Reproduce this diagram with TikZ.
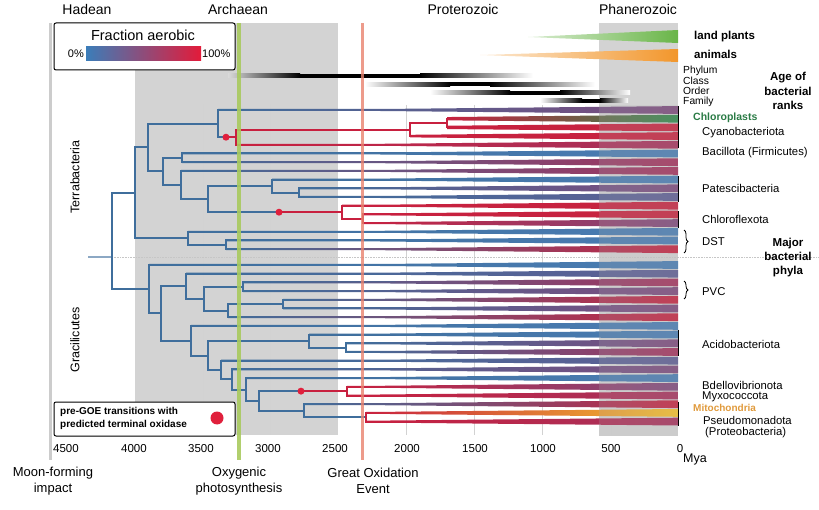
\documentclass[tikz,border=0pt]{standalone}
\usepackage{fontspec}
\setmainfont{Liberation Sans}
\usetikzlibrary{decorations.pathreplacing}

\definecolor{treeblue}{HTML}{3F6E9C}
\definecolor{treered}{HTML}{C8203F}
\definecolor{dotred}{HTML}{E0203C}
\definecolor{phblue}{HTML}{4A7DB3}
\definecolor{phbluepurple}{HTML}{5F5E93}
\definecolor{phpurple}{HTML}{7E4A7C}
\definecolor{phredpurple}{HTML}{A5325C}
\definecolor{phred}{HTML}{C62440}
\definecolor{chlgreen}{HTML}{2F8A4C}
\definecolor{mitoyellow}{HTML}{F4C22C}
\definecolor{eragray}{HTML}{D3D3D3}
\definecolor{oxygreen}{HTML}{A8CA5E}
\definecolor{goered}{HTML}{E8826E}
\definecolor{plantgreen}{HTML}{69B548}
\definecolor{animalorange}{HTML}{F2962B}
\definecolor{barblue}{HTML}{3B7DB9}
\definecolor{barpurple}{HTML}{8A4B80}
\definecolor{barred}{HTML}{E31B3A}
\definecolor{chltext}{HTML}{2A7B45}
\definecolor{mitotext}{HTML}{E09A3C}

\begin{document}
\begin{tikzpicture}[x=1pt, y=-1pt,
    bluebranch/.style={draw=treeblue, line width=2pt},
    redbranch/.style={draw=treered, line width=2pt},
    gridline/.style={draw=gray!35, line width=0.5pt},
    era/.style={font=\fontsize{14}{16}\selectfont},
    tick/.style={font=\fontsize{11.5}{13}\selectfont},
    event/.style={font=\fontsize{13}{15.5}\selectfont, align=center},
    phylum/.style={anchor=west, inner sep=0pt, font=\fontsize{11.3}{12}\selectfont},
    rank/.style={anchor=west, inner sep=0pt, font=\fontsize{10.3}{11}\selectfont},
    heading/.style={font=\bfseries\fontsize{11.5}{14.3}\selectfont, align=center},
    clade/.style={rotate=90, font=\fontsize{12.5}{14}\selectfont},
    boxline/.style={draw=black, line width=1pt, fill=white, rounded corners=2pt},
    phylumbar/.style={draw=black, line width=1.5pt},
  ]
    \useasboundingbox (0,0) rectangle (819,510);

    % 時代の背景
    \fill[eragray] (135,23) rectangle (338,435);
    \fill[eragray] (599,23) rectangle (678,436);

    % 目盛りの線
    \draw[gridline] (203,105) -- (203,435);
    \draw[gridline] (270,105) -- (270,435);
    \draw[gridline] (406,105) -- (406,435);
    \draw[gridline] (474,105) -- (474,435);
    \draw[gridline] (542,105) -- (542,435);
    \draw[gridline] (611,105) -- (611,435);

    % 月の形成
    \draw[line width=3pt, gray!40] (50,23) -- (50,460);

    % 陸上植物と動物
    \shade[left color=plantgreen!25, right color=plantgreen] (528,37) -- (678,30) -- (678,43) -- cycle;
    \shade[left color=animalorange!20, right color=animalorange] (480,55) -- (678,49) -- (678,62) -- cycle;

    % 分類階級の年代
    \shade[left color=gray!30, right color=black] (228,74) rectangle (300,78);
    \fill[black] (300,74) rectangle (420,78);
    \shade[left color=black, right color=white] (420,74) rectangle (533,78);
    \shade[left color=white, right color=black] (365,82.5) rectangle (450,86.5);
    \fill[black] (450,82.5) rectangle (490,86.5);
    \shade[left color=black, right color=white] (490,82.5) rectangle (595,86.5);
    \shade[left color=white, right color=black] (430,91) rectangle (510,95);
    \fill[black] (510,91) rectangle (560,95);
    \shade[left color=black, right color=white] (560,91) rectangle (630,95);
    \shade[left color=white, right color=black] (540,99) rectangle (582,103);
    \fill[black] (582,99) rectangle (600,103);
    \shade[left color=black, right color=white] (600,99) rectangle (628,103);

    % 葉
    \foreach \i in {1,...,17} \coordinate (l\i) at (678,{110+8.7*(\i-1)});
    \foreach \i in {18,...,36} \coordinate (l\i) at (678,{265+8.7*(\i-18)});

    % 内部の節 (Terrabacteria)
    \coordinate (R0) at (88,257);
    \coordinate (R) at (112,257);
    \coordinate (T1) at (135,192.9);
    \coordinate (T2) at (148,147.5);
    \coordinate (T3) at (218,123.6);
    \coordinate (T4) at (236,137.2);
    \coordinate (T5) at (410,129.6);
    \coordinate (T6) at (447,123.05);
    \coordinate (T7) at (163,171.4);
    \coordinate (T8) at (182,157.85);
    \coordinate (T9) at (181,185.0);
    \coordinate (T10) at (208,199.15);
    \coordinate (T11) at (272,186.1);
    \coordinate (T12) at (299,192.65);
    \coordinate (T13) at (342,212.2);
    \coordinate (T14) at (363,218.75);
    \coordinate (T15) at (188,238.3);
    \coordinate (T16) at (226,244.85);

    % 内部の節 (Gracilicutes)
    \coordinate (G1) at (149,289.25);
    \coordinate (G2) at (161,313.5);
    \coordinate (G3) at (186,286.2);
    \coordinate (G4) at (204,298.7);
    \coordinate (G5) at (243,286.75);
    \coordinate (G6) at (228,310.7);
    \coordinate (G7) at (283,304.15);
    \coordinate (G8) at (191,340.75);
    \coordinate (G9) at (208,355.6);
    \coordinate (G10) at (309,341.1);
    \coordinate (G11) at (346,347.65);
    \coordinate (G12) at (221,370.1);
    \coordinate (G13) at (232,379.45);
    \coordinate (G14) at (246,389.5);
    \coordinate (G15) at (259,400.9);
    \coordinate (G16) at (347,391.15);
    \coordinate (G17) at (304,410.7);
    \coordinate (G18) at (366,417.25);

    % 末端酸化酵素の点
    \coordinate (d1) at (226,137.2);
    \coordinate (d2) at (279,212.2);
    \coordinate (d3) at (301,391.15);

    % 点線
    \draw[gray!45, densely dotted, line width=0.6pt] (R) -- (819,257);

    % 枝を引く
    \draw[bluebranch, draw=treeblue!60] (R0) -- (R);
    \draw[bluebranch] (R) |- (T1);
    \draw[bluebranch] (R) |- (G1);
    \draw[bluebranch] (T1) |- (T2);
    \draw[bluebranch] (T1) |- (T15);
    \draw[bluebranch] (T2) |- (T3);
    \draw[bluebranch] (T2) |- (T7);
    \draw[bluebranch] (T3) |- (l1);
    \draw[bluebranch] (T3) |- (d1);
    \draw[redbranch] (d1) -- (T4);
    \draw[redbranch] (T4) |- (T5);
    \draw[redbranch] (T4) |- (l5);
    \draw[redbranch] (T5) |- (T6);
    \draw[redbranch] (T5) |- (l4);
    \draw[redbranch] (T6) |- (l2);
    \draw[redbranch] (T6) |- (l3);
    \draw[bluebranch] (T7) |- (T8);
    \draw[bluebranch] (T7) |- (T9);
    \draw[bluebranch] (T8) |- (l6);
    \draw[bluebranch] (T8) |- (l7);
    \draw[bluebranch] (T9) |- (l8);
    \draw[bluebranch] (T9) |- (T10);
    \draw[bluebranch] (T10) |- (T11);
    \draw[bluebranch] (T10) |- (d2);
    \draw[redbranch] (d2) -- (T13);
    \draw[bluebranch] (T11) |- (l9);
    \draw[bluebranch] (T11) |- (T12);
    \draw[bluebranch] (T12) |- (l10);
    \draw[bluebranch] (T12) |- (l11);
    \draw[redbranch] (T13) |- (l12);
    \draw[redbranch] (T13) |- (T14);
    \draw[redbranch] (T14) |- (l13);
    \draw[redbranch] (T14) |- (l14);
    \draw[bluebranch] (T15) |- (l15);
    \draw[bluebranch] (T15) |- (T16);
    \draw[bluebranch] (T16) |- (l16);
    \draw[bluebranch] (T16) |- (l17);
    \draw[bluebranch] (G1) |- (l18);
    \draw[bluebranch] (G1) |- (G2);
    \draw[bluebranch] (G2) |- (G3);
    \draw[bluebranch] (G2) |- (G8);
    \draw[bluebranch] (G3) |- (l19);
    \draw[bluebranch] (G3) |- (G4);
    \draw[bluebranch] (G4) |- (G5);
    \draw[bluebranch] (G4) |- (G6);
    \draw[bluebranch] (G5) |- (l20);
    \draw[bluebranch] (G5) |- (l21);
    \draw[bluebranch] (G6) |- (G7);
    \draw[bluebranch] (G6) |- (l24);
    \draw[bluebranch] (G7) |- (l22);
    \draw[bluebranch] (G7) |- (l23);
    \draw[bluebranch] (G8) |- (l25);
    \draw[bluebranch] (G8) |- (G9);
    \draw[bluebranch] (G9) |- (G10);
    \draw[bluebranch] (G9) |- (G12);
    \draw[bluebranch] (G10) |- (l26);
    \draw[bluebranch] (G10) |- (G11);
    \draw[bluebranch] (G11) |- (l27);
    \draw[bluebranch] (G11) |- (l28);
    \draw[bluebranch] (G12) |- (l29);
    \draw[bluebranch] (G12) |- (G13);
    \draw[bluebranch] (G13) |- (l30);
    \draw[bluebranch] (G13) |- (G14);
    \draw[bluebranch] (G14) |- (l31);
    \draw[bluebranch] (G14) |- (G15);
    \draw[bluebranch] (G15) |- (d3);
    \draw[redbranch] (d3) -- (G16);
    \draw[bluebranch] (G15) |- (G17);
    \draw[redbranch] (G16) |- (l32);
    \draw[redbranch] (G16) |- (l33);
    \draw[bluebranch] (G17) |- (l34);
    \draw[bluebranch] (G17) |- (G18);
    \draw[redbranch] (G18) |- (l35);
    \draw[redbranch] (G18) |- (l36);

    % 好気性の割合 (くさび形)
    \foreach \tx/\ty/\ca/\cb in {
        218/110/treeblue/phpurple, 447/118.7/treered/chlgreen,
        447/127.4/treered/phred, 410/136.1/treered/phred,
        236/144.8/treered/phredpurple, 182/153.5/treeblue/phblue,
        182/162.2/treeblue/phredpurple, 181/170.9/treeblue/phredpurple,
        272/179.6/treeblue/phblue, 299/188.3/treeblue/phpurple,
        299/197/treeblue/phbluepurple, 342/205.7/treered/phred,
        363/214.4/treered/phred, 363/223.1/treered/phpurple,
        188/231.8/treeblue/phblue, 226/240.5/treeblue/phblue,
        226/249.2/treeblue/phred, 149/265/treeblue/phblue,
        186/273.7/treeblue/phbluepurple, 243/282.4/treeblue/phredpurple,
        243/291.1/treeblue/phpurple, 283/299.8/treeblue/phred,
        283/308.5/treeblue/phpurple, 228/317.2/treeblue/phred,
        191/325.9/treeblue/phblue, 309/334.6/treeblue/phblue,
        346/343.3/treeblue/phpurple, 346/352/treeblue/phredpurple,
        221/360.7/treeblue/phbluepurple, 232/369.4/treeblue/phpurple,
        246/378.1/treeblue/phblue, 347/386.8/treered/phpurple,
        347/395.5/treered/phredpurple, 304/404.2/treeblue/phred,
        366/412.9/treered/mitoyellow, 366/421.6/treered/phredpurple} {
      \pgfmathsetmacro{\wx}{max(\tx,380)}
      \pgfmathsetmacro{\wh}{1+2.9*(\wx-380)/298}
      \shade[left color=\ca, right color=\cb] (\tx,\ty-1) -- (\wx,\ty-\wh) -- (678,\ty-3.9)
        -- (678,\ty+3.9) -- (\wx,\ty+\wh) -- (\tx,\ty+1) -- cycle;
    }
    \fill[gray!60, opacity=0.2] (599,105) rectangle (678,436);

    % 門のまとまり
    \draw[phylumbar] (678.5,106) -- (678.5,148);
    \draw[phylumbar] (678.5,176) -- (678.5,202);
    \draw[phylumbar] (678.5,211) -- (678.5,228);
    \draw[phylumbar] (678.5,330) -- (678.5,356);
    \draw[phylumbar] (678.5,402) -- (678.5,426);

    % 点
    \fill[dotred] (d1) circle (3.5);
    \fill[dotred] (d2) circle (3.5);
    \fill[dotred] (d3) circle (3.5);

    % 酸素発生型光合成と大酸化イベント
    \draw[line width=4pt, oxygreen, opacity=0.9] (239,23) -- (239,460);
    \draw[line width=3pt, goered, opacity=0.8] (362,23) -- (362,460);

    % 凡例
    \draw[boxline] (54,23) rectangle (235,70);
    \shade[left color=barblue, middle color=barpurple, right color=barred] (86,47) rectangle (201,61);
    \node[font=\fontsize{14.5}{16}\selectfont] (legtitle) at (143,35) {Fraction aerobic};
    \node[anchor=east, inner sep=1pt, font=\fontsize{11}{12}\selectfont] (leglow) at (85,54) {0\%};
    \node[anchor=west, inner sep=1pt, font=\fontsize{11}{12}\selectfont] (leghigh) at (201,54) {100\%};

    \draw[boxline] (54,402) rectangle (235,436);
    \node[anchor=west, align=left, inner sep=0pt, font=\bfseries\fontsize{10}{13}\selectfont] (goetext) at (60,418.5)
      {pre-GOE transitions with\\predicted terminal oxidase};
    \fill[dotred] (217,418) circle (6.5);

    % 時代の名前
    \node[era] (hadean) at (87,10) {Hadean};
    \node[era] (archaean) at (238,10) {Archaean};
    \node[era] (proterozoic) at (463,10) {Proterozoic};
    \node[era] (phanerozoic) at (638,10) {Phanerozoic};

    % 目盛り
    \node[tick] (t4500) at (66,449) {4500};
    \node[tick] (t4000) at (134,449) {4000};
    \node[tick] (t3500) at (201,449) {3500};
    \node[tick] (t3000) at (268,449) {3000};
    \node[tick] (t2500) at (335,449) {2500};
    \node[tick] (t2000) at (407,449) {2000};
    \node[tick] (t1500) at (475,449) {1500};
    \node[tick] (t1000) at (543,449) {1000};
    \node[tick] (t500) at (611,449) {500};
    \node[tick] (t0) at (680,449) {0};
    \node[font=\fontsize{12.5}{14}\selectfont] (mya) at (695,459) {Mya};

    % 出来事
    \node[event] (moon) at (53,481) {Moon-forming\\impact};
    \node[event] (oxygenic) at (239,481) {Oxygenic\\photosynthesis};
    \node[event] (goe) at (373,481) {Great Oxidation\\Event};

    % 系統の名前
    \node[clade] (terra) at (75,177) {Terrabacteria};
    \node[clade] (graci) at (75,340) {Gracilicutes};

    % 右側の名前
    \node[anchor=west, inner sep=0pt, font=\bfseries\fontsize{11.5}{13}\selectfont] (plants) at (694,37) {land plants};
    \node[anchor=west, inner sep=0pt, font=\bfseries\fontsize{11.5}{13}\selectfont] (animals) at (694,54) {animals};
    \node[rank] (phylumrank) at (683,70.5) {Phylum};
    \node[rank] (classrank) at (683,80.8) {Class};
    \node[rank] (orderrank) at (683,91) {Order};
    \node[rank] (familyrank) at (683,101.5) {Family};
    \node[heading] (ranks) at (788,91) {Age of\\bacterial\\ranks};
    \node[heading] (phyla) at (788,257.5) {Major\\bacterial\\phyla};

    \node[anchor=west, inner sep=0pt, text=chltext, font=\bfseries\fontsize{10.5}{12}\selectfont] (chloro) at (693,118) {Chloroplasts};
    \node[phylum] (cyano) at (702,133) {Cyanobacteriota};
    \node[phylum] (bacillota) at (702,153) {Bacillota (Firmicutes)};
    \node[phylum] (pates) at (702,188) {Patescibacteria};
    \node[phylum] (chloroflexota) at (702,219) {Chloroflexota};
    \node[phylum] (dst) at (702,241.5) {DST};
    \node[phylum] (pvc) at (702,292) {PVC};
    \node[phylum] (acido) at (702,344) {Acidobacteriota};
    \node[phylum] (bdello) at (702,385) {Bdellovibrionota};
    \node[phylum] (myxo) at (702,396.5) {Myxococcota};
    \node[anchor=west, inner sep=0pt, text=mitotext, font=\bfseries\fontsize{10}{12}\selectfont] (mito) at (693,407.5) {Mitochondria};
    \node[phylum] (pseudo) at (703,420.5) {Pseudomonadota};
    \node[phylum] (proteo) at (705,432.5) {(Proteobacteria)};

    % 括弧
    \draw[decorate, decoration={brace, amplitude=4pt}, line width=0.8pt] (684,230) -- (684,253);
    \draw[decorate, decoration={brace, amplitude=4pt}, line width=0.8pt] (684,281) -- (684,299);

\end{tikzpicture}
\end{document}
